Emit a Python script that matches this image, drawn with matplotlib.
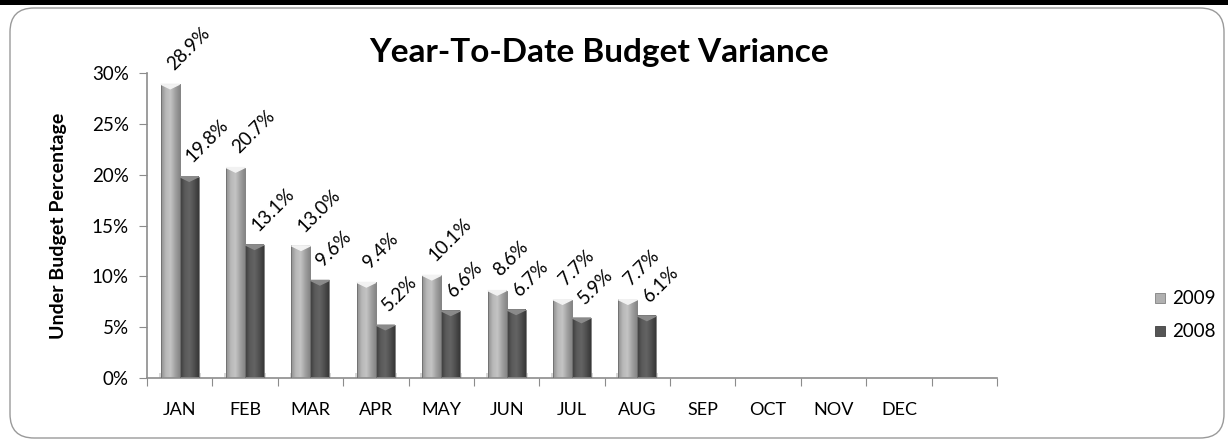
import numpy as np
import matplotlib
matplotlib.use('Agg')
import matplotlib.pyplot as plt
from matplotlib.patches import FancyBboxPatch, Rectangle
from matplotlib.colors import LinearSegmentedColormap

months = ["JAN", "FEB", "MAR", "APR", "MAY", "JUN", "JUL", "AUG",
          "SEP", "OCT", "NOV", "DEC", ""]
ytd_2009 = [28.9, 20.7, 13.0, 9.4, 10.1, 8.6, 7.7, 7.7]
ytd_2008 = [19.8, 13.1, 9.6, 5.2, 6.6, 6.7, 5.9, 6.1]
y_ticks = [0, 5, 10, 15, 20, 25, 30]

plt.rcParams['font.family'] = ['Lato', 'DejaVu Sans']

fig = plt.figure(figsize=(12.28, 4.4), dpi=100)

# frame: black strip on top + rounded border (inches)
fig.patches.append(Rectangle((0, 4.35), 12.28, 0.05, transform=fig.dpi_scale_trans,
                             facecolor='black', edgecolor='none', zorder=-2))
fig.patches.append(FancyBboxPatch((0.1, 0.02), 12.14, 4.3,
                                  boxstyle="round,pad=0,rounding_size=0.24",
                                  transform=fig.dpi_scale_trans, facecolor='none',
                                  edgecolor='#9a9a9a', linewidth=1.0, zorder=-1))

ax = fig.add_axes([0.1197, 0.1409, 0.6922, 0.6932])
ax.patch.set_alpha(0)

cmap_light = LinearSegmentedColormap.from_list('l', ['#8e8e8e', '#b8b8b8', '#c4c4c4', '#a2a2a2', '#868686'])
cmap_dark = LinearSegmentedColormap.from_list('d', ['#3c3c3c', '#5a5a5a', '#646464', '#505050', '#383838'])
grad = np.linspace(0, 1, 64).reshape(1, -1)

w = 0.29
def draw_bars(values, offset, cmap, cap):
    for i, v in enumerate(values):
        x0 = i + 0.5 + offset
        # soft shadow at the base
        ax.add_patch(Rectangle((x0 - 0.03, 0), w + 0.06, 0.45, facecolor='#d8d8d8',
                               edgecolor='none', zorder=1))
        ax.imshow(grad, cmap=cmap, extent=[x0, x0 + w, 0, v], aspect='auto', zorder=2)
        ax.add_patch(Rectangle((x0, 0), w, v, facecolor='none', edgecolor='#6e6e6e',
                               linewidth=0.6, zorder=3))
        ax.fill([x0, x0 + w, x0 + w * 0.5], [v, v, v - 0.45], color=cap, zorder=3)
        ax.annotate(f"{v:.1f}%", (x0 + w / 2, v), xytext=(4, 8), textcoords='offset points',
                    rotation=45, rotation_mode='anchor', ha='left', va='bottom', fontsize=13.5)

draw_bars(ytd_2009, -w, cmap_light, '#f2f2f2')
draw_bars(ytd_2008, 0, cmap_dark, '#8a8a8a')

ax.set_xlim(0, len(months))
ax.set_ylim(0, 30)

ax.set_yticks(y_ticks)
ax.set_yticklabels([f"{t}%" for t in y_ticks], fontsize=13.5)
ax.set_xticks(np.arange(len(months) + 1))
ax.set_xticklabels([])
ax.set_xticks(np.arange(len(months)) + 0.5, minor=True)
ax.set_xticklabels(months, minor=True, fontsize=13)
ax.tick_params(axis='x', which='minor', length=0, pad=17)
ax.tick_params(axis='x', which='major', length=6, color='#8c8c8c', direction='out')
ax.tick_params(axis='y', length=6, color='#8c8c8c', direction='out', pad=7)

for s in ['top', 'right']:
    ax.spines[s].set_visible(False)
for s in ['left', 'bottom']:
    ax.spines[s].set_color('#8c8c8c')
    ax.spines[s].set_linewidth(1.2)

ax.set_ylabel("Under Budget Percentage", fontsize=14, fontweight='bold', labelpad=18)
fig.text(0.488, 0.88, "Year-To-Date Budget Variance", ha='center', va='center',
         fontsize=24, fontweight='bold')

# legend
fig.patches.append(Rectangle((1155 / 1228, 1 - 303 / 440), 10 / 1228, 10 / 440,
                             transform=fig.transFigure, facecolor='#b0b0b0', edgecolor='#808080', lw=0.6))
fig.patches.append(Rectangle((1155 / 1228, 1 - 336 / 440), 10 / 1228, 10 / 440,
                             transform=fig.transFigure, facecolor='#555555', edgecolor='#404040', lw=0.6))
fig.text(1172 / 1228, 1 - 298 / 440, "2009", va='center', fontsize=13.5)
fig.text(1172 / 1228, 1 - 331 / 440, "2008", va='center', fontsize=13.5)

fig.savefig("out.png", dpi=100)
